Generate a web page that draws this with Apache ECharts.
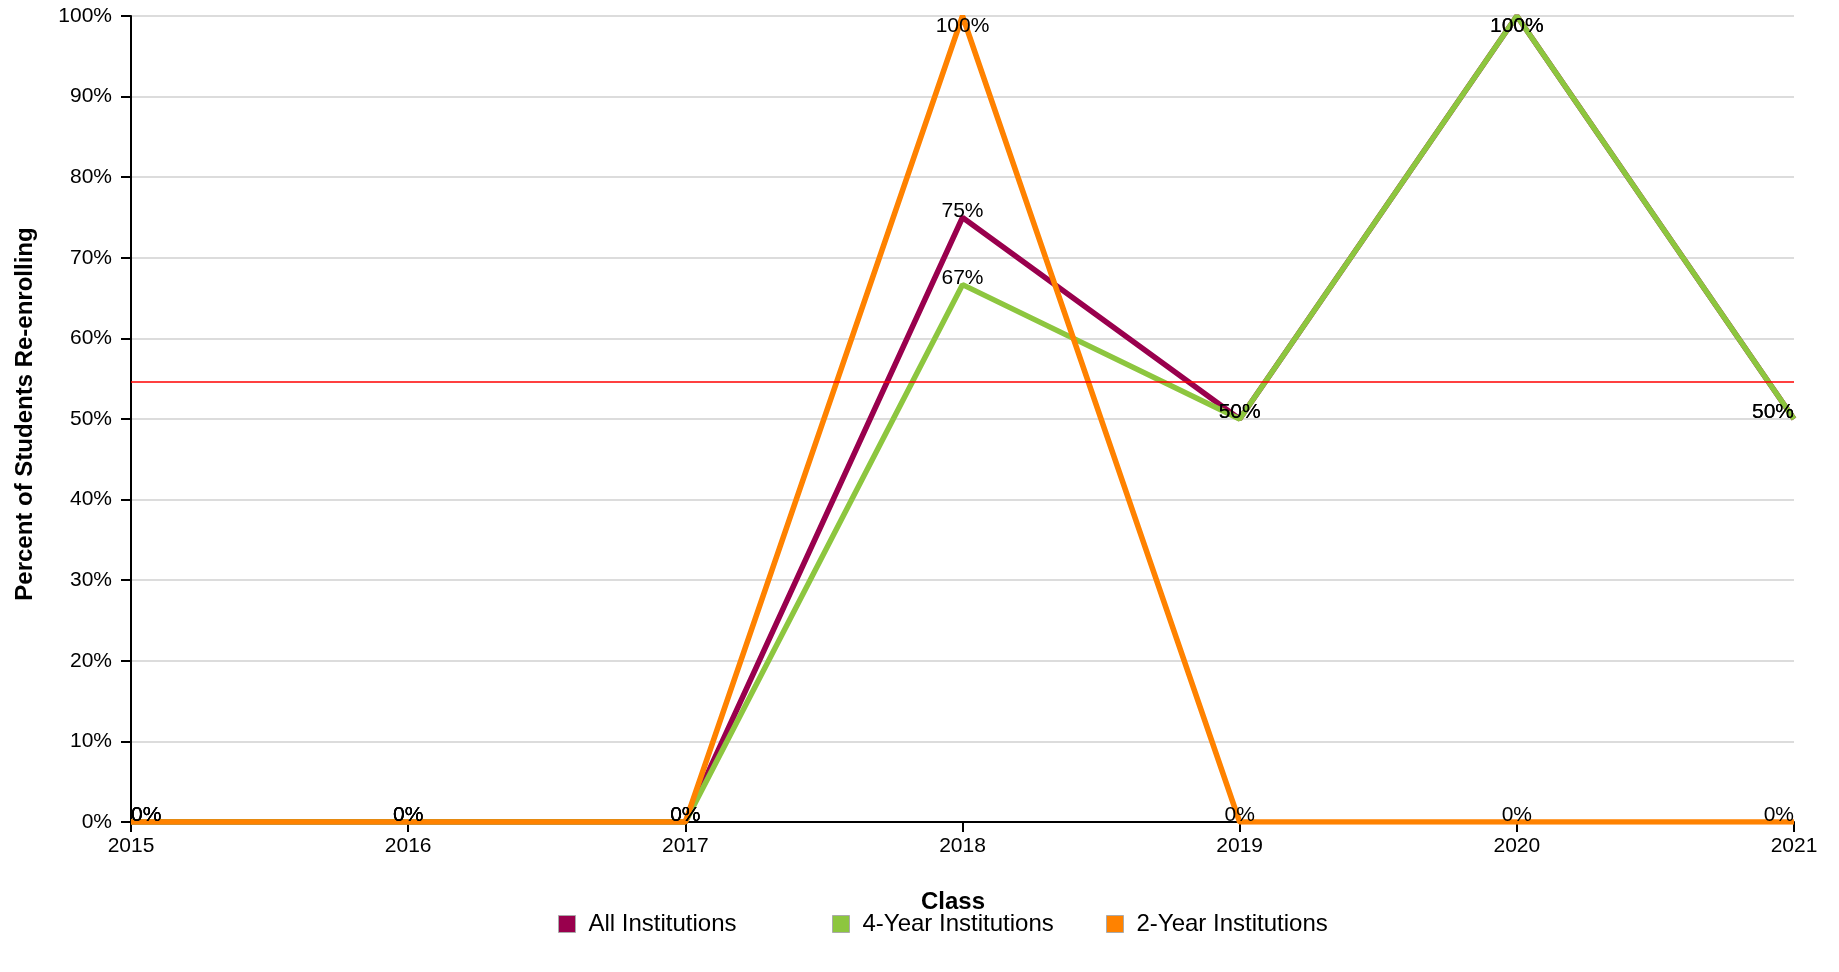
<!DOCTYPE html>
<html>
<head>
<meta charset="utf-8">
<script src="https://cdn.jsdelivr.net/npm/echarts@6/dist/echarts.min.js"></script>
<style>
html,body{margin:0;padding:0;background:#fff;}
#chart{width:1839px;height:972px;}
</style>
</head>
<body>
<div id="chart"></div>
<script>
const classes = ['2015', '2016', '2017', '2018', '2019', '2020', '2021'];
const allInstitutions = [0, 0, 0, 75, 50, 100, 50];
const fourYear = [0, 0, 0, 66.67, 50, 100, 50];
const twoYear = [0, 0, 0, 100, 0, 0, 0];
const averageLine = 54.6;
const seriesNames = ['All Institutions', '4-Year Institutions', '2-Year Institutions'];
const seriesColors = ['#99004D', '#8DC63F', '#FF8200'];

const FONT = '"Liberation Sans", Arial, Helvetica, sans-serif';
const Y_MAX = 100;

function buildData(values) {
  const n = values.length;
  return values.map((v, i) => {
    const item = { value: v };
    const label = {};
    if (i === 0) label.align = 'left';
    if (i === n - 1) label.align = 'right';
    if (v >= Y_MAX) label.offset = [0, 17];
    if (Object.keys(label).length) item.label = label;
    return item;
  });
}

function makeSeries(name, values, color, extra) {
  return Object.assign({
    name: name,
    type: 'line',
    data: buildData(values),
    symbol: 'circle',
    symbolSize: 0,
    showSymbol: true,
    lineStyle: { color: color, width: 5.5 },
    itemStyle: { color: color },
    label: {
      show: true,
      position: 'top',
      distance: -4,
      color: '#000',
      fontFamily: FONT,
      fontSize: 21,
      formatter: p => Math.round(p.value) + '%'
    },
    emphasis: { disabled: true },
    animation: false
  }, extra || {});
}

const chart = echarts.init(document.getElementById('chart'));

const legendLefts = [558, 832, 1106];
const legends = seriesNames.map((nm, i) => ({
  data: [nm],
  left: legendLefts[i],
  top: 912,
  padding: 0,
  icon: 'rect',
  itemWidth: 17,
  itemHeight: 17,
  itemGap: 0,
  selectedMode: false,
  itemStyle: { borderColor: '#aaa', borderWidth: 1 },
  textStyle: { fontFamily: FONT, fontSize: 24, color: '#000', padding: [0, 0, 0, 8] }
}));

chart.setOption({
  animation: false,
  grid: { left: 131, right: 45, top: 16, bottom: 150, containLabel: false },
  legend: legends,
  xAxis: {
    type: 'category',
    data: classes,
    boundaryGap: false,
    name: 'Class',
    nameLocation: 'middle',
    nameGap: 68,
    nameTextStyle: { fontFamily: FONT, fontSize: 24, fontWeight: 'bold', color: '#000', padding: [0, 19, 0, 0] },
    axisLine: { lineStyle: { color: '#000', width: 2 } },
    axisTick: { show: true, length: 10, lineStyle: { color: '#000', width: 2 }, alignWithLabel: true },
    axisLabel: { fontFamily: FONT, fontSize: 21, color: '#000', margin: 14 },
    splitLine: { show: false }
  },
  yAxis: {
    type: 'value',
    min: 0,
    max: 100,
    interval: 10,
    name: 'Percent of Students Re-enrolling',
    nameLocation: 'middle',
    nameGap: 94,
    nameTextStyle: { fontFamily: FONT, fontSize: 24, fontWeight: 'bold', color: '#000', padding: [0, 0, 0, 10] },
    axisLine: { show: true, lineStyle: { color: '#000', width: 2 } },
    axisTick: { show: true, length: 10, lineStyle: { color: '#000', width: 2 } },
    axisLabel: { fontFamily: FONT, fontSize: 21, color: '#000', margin: 19, formatter: '{value}%' },
    splitLine: { show: true, lineStyle: { color: '#dcdcdc', width: 2 } }
  },
  series: [
    makeSeries(seriesNames[0], allInstitutions, seriesColors[0]),
    makeSeries(seriesNames[1], fourYear, seriesColors[1]),
    makeSeries(seriesNames[2], twoYear, seriesColors[2], {
      markLine: {
        silent: true,
        symbol: ['none', 'none'],
        label: { show: false },
        lineStyle: { color: '#FF0000', width: 1.5, type: 'solid' },
        data: [{ yAxis: averageLine }],
        animation: false
      }
    })
  ]
});
</script>
</body>
</html>
